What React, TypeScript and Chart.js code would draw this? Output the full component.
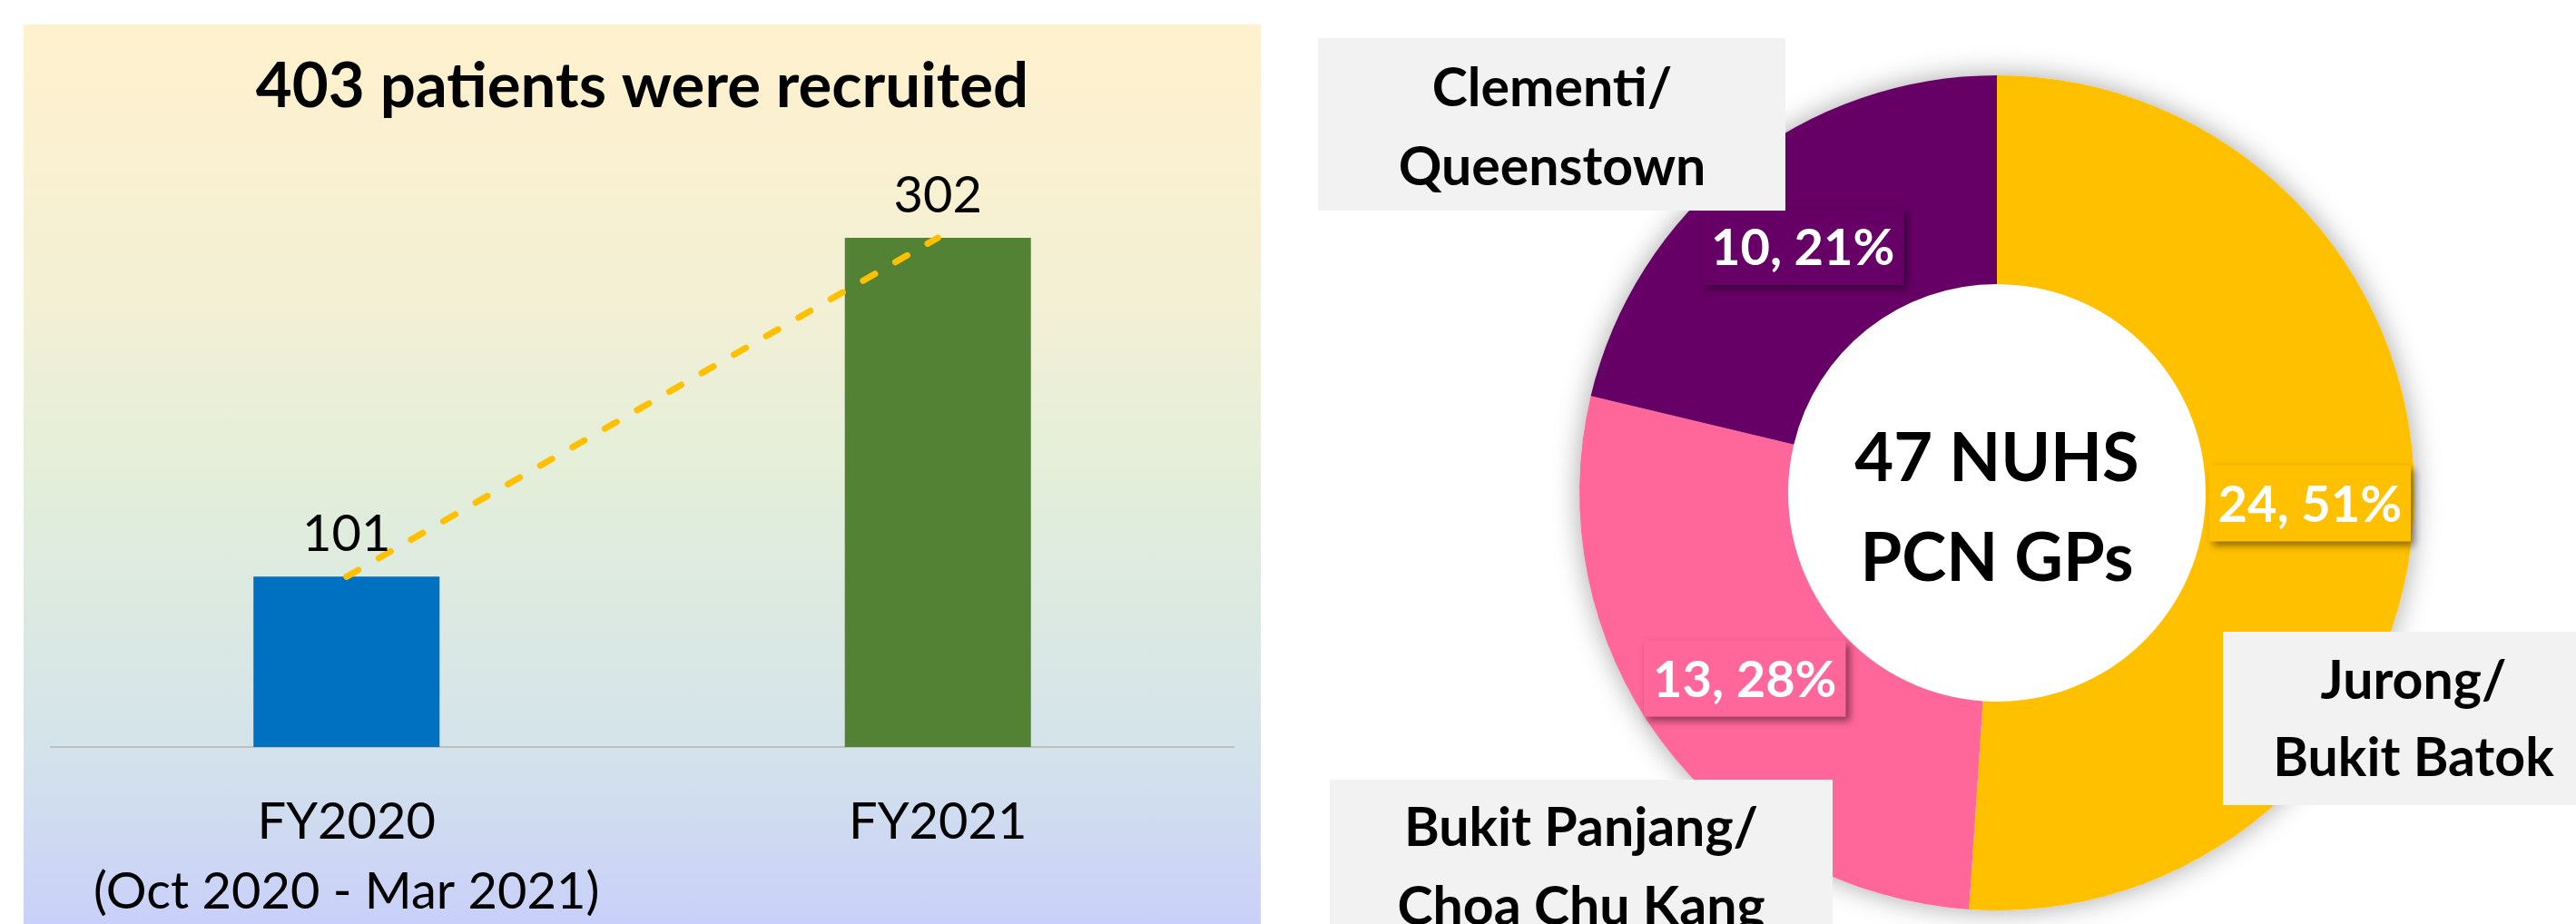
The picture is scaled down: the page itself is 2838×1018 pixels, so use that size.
import React, { useEffect, useRef } from 'react';
import { Chart, registerables } from 'chart.js';

Chart.register(...registerables);

const FONT = 'Lato, "Open Sans", "DejaVu Sans", sans-serif';

// ---- Left chart data ----
const chartTitle = '403 patients were recruited';
const periodLabels: (string | string[])[] = [['FY2020', '(Oct 2020 - Mar 2021)'], 'FY2021'];
const patientsRecruited = [101, 302];
const barColors = ['#0070C0', '#548235'];

// ---- Right chart data ----
const regionNames = [
  ['Jurong/', 'Bukit Batok'],
  ['Bukit Panjang/', 'Choa Chu Kang'],
  ['Clementi/', 'Queenstown'],
];
const gpCounts = [24, 13, 10];
const regionColors = ['#FFC000', '#FF6699', '#660066'];
const centerLines = ['47 NUHS', 'PCN GPs'];

// label box placement relative to doughnut centre (cx, cy)
const regionBoxLayout = [
  { l: 249, t: 153, w: 420, h: 191, tx: 459, lines: [206, 291] },
  { l: -735, t: 316, w: 554, h: 220, tx: -458, lines: [368, 455] },
  { l: -748, t: -501, w: 515, h: 190, tx: -490, lines: [-447, -360] },
];

const CAP = 0.358; // half cap-height ratio for Lato

const barValueLabels = {
  id: 'barValueLabels',
  afterDatasetsDraw(chart: any) {
    const meta = chart.getDatasetMeta(0);
    const ctx = chart.ctx;
    ctx.save();
    ctx.font = `400 56px ${FONT}`;
    ctx.fillStyle = '#000';
    ctx.textAlign = 'center';
    ctx.textBaseline = 'alphabetic';
    meta.data.forEach((el: any, i: number) => {
      ctx.fillText(String(chart.data.datasets[0].data[i]), el.x, el.y - 28);
    });
    ctx.restore();
  },
};

const donutDecor = {
  id: 'donutDecor',
  beforeDatasetsDraw(chart: any) {
    const arc = chart.getDatasetMeta(0).data[0];
    if (!arc) return;
    const ctx = chart.ctx;
    ctx.save();
    ctx.shadowColor = 'rgba(0,0,0,0.35)';
    ctx.shadowBlur = 30;
    ctx.fillStyle = '#ffffff';
    ctx.beginPath();
    ctx.arc(arc.x, arc.y, arc.outerRadius, 0, Math.PI * 2);
    ctx.fill();
    ctx.restore();
  },
  afterDatasetsDraw(chart: any) {
    const meta = chart.getDatasetMeta(0);
    const data = chart.data.datasets[0].data as number[];
    const total = data.reduce((a, b) => a + b, 0);
    const ctx = chart.ctx;
    const first = meta.data[0];
    const cx = first.x;
    const cy = first.y;

    // value labels
    meta.data.forEach((el: any, i: number) => {
      const p = el.tooltipPosition();
      const txt = `${data[i]}, ${Math.round((data[i] / total) * 100)}%`;
      ctx.save();
      ctx.font = `700 56px ${FONT}`;
      const w = ctx.measureText(txt).width + 20;
      const h = 84;
      ctx.shadowColor = 'rgba(0,0,0,0.45)';
      ctx.shadowBlur = 8;
      ctx.shadowOffsetX = 4;
      ctx.shadowOffsetY = 4;
      ctx.fillStyle = regionColors[i];
      ctx.fillRect(p.x - w / 2, p.y - h / 2, w, h);
      ctx.restore();
      ctx.save();
      ctx.font = `700 56px ${FONT}`;
      ctx.fillStyle = '#ffffff';
      ctx.textAlign = 'center';
      ctx.textBaseline = 'alphabetic';
      ctx.fillText(txt, p.x, p.y + 56 * CAP);
      ctx.restore();
    });

    // centre text
    ctx.save();
    ctx.font = `700 74px ${FONT}`;
    ctx.fillStyle = '#000';
    ctx.textAlign = 'center';
    ctx.textBaseline = 'alphabetic';
    ctx.fillText(centerLines[0], cx, cy - 39 + 74 * CAP);
    ctx.fillText(centerLines[1], cx, cy + 71 + 74 * CAP);
    ctx.restore();

    // region label boxes
    regionBoxLayout.forEach((b, i) => {
      ctx.save();
      ctx.fillStyle = '#F2F2F2';
      ctx.fillRect(cx + b.l, cy + b.t, b.w, b.h);
      ctx.font = `700 59px ${FONT}`;
      ctx.fillStyle = '#000';
      ctx.textAlign = 'center';
      ctx.textBaseline = 'alphabetic';
      regionNames[i].forEach((line, j) => {
        ctx.fillText(line, cx + b.tx, cy + b.lines[j] + 59 * CAP);
      });
      ctx.restore();
    });
  },
};

export default function App() {
  const barRef = useRef<HTMLCanvasElement>(null);
  const donutRef = useRef<HTMLCanvasElement>(null);

  useEffect(() => {
    document.body.style.margin = '0';
    const barChart = new Chart(barRef.current as HTMLCanvasElement, {
      type: 'bar',
      data: {
        labels: periodLabels,
        datasets: [
          {
            type: 'bar',
            data: patientsRecruited,
            backgroundColor: barColors,
            borderWidth: 0,
            barPercentage: 0.3147,
            categoryPercentage: 1,
            order: 1,
          } as any,
          {
            type: 'line',
            data: patientsRecruited,
            borderColor: '#FFC000',
            borderWidth: 7,
            borderDash: [15, 26],
            borderCapStyle: 'round',
            pointRadius: 0,
            tension: 0,
            fill: false,
            order: 0,
          } as any,
        ],
      },
      options: {
        responsive: false,
        animation: false,
        devicePixelRatio: 1,
        layout: { padding: { left: 30, right: 30, top: 0, bottom: 0 } },
        plugins: {
          legend: { display: false },
          tooltip: { enabled: false },
          title: {
            display: true,
            text: chartTitle,
            color: '#000',
            font: { family: FONT, size: 69, weight: 'bold', lineHeight: 1.2 },
            padding: { top: 27, bottom: 36 },
          },
        },
        scales: {
          x: {
            grid: { display: false, drawTicks: false },
            border: { display: true, color: '#BFBFBF', width: 2 },
            ticks: {
              color: '#000',
              font: { family: FONT, size: 56, lineHeight: 1.38 },
              padding: 44,
              maxRotation: 0,
              autoSkip: false,
            },
            afterFit: (scale: any) => {
              scale.height = 195;
            },
          },
          y: {
            display: false,
            min: 0,
            max: 350,
          },
        },
      } as any,
      plugins: [barValueLabels],
    });

    const donutChart = new Chart(donutRef.current as HTMLCanvasElement, {
      type: 'doughnut',
      data: {
        labels: regionNames.map((r) => r.join(' ')),
        datasets: [
          {
            data: gpCounts,
            backgroundColor: regionColors,
            borderWidth: 0,
            hoverOffset: 0,
          },
        ],
      },
      options: {
        responsive: false,
        animation: false,
        devicePixelRatio: 1,
        cutout: '50%',
        layout: { padding: { left: 340, right: 178, top: 83, bottom: 15 } },
        plugins: {
          legend: { display: false },
          tooltip: { enabled: false },
        },
      } as any,
      plugins: [donutDecor],
    });

    return () => {
      barChart.destroy();
      donutChart.destroy();
    };
  }, []);

  return (
    <div
      style={{
        position: 'absolute',
        left: 0,
        top: 0,
        width: 2838,
        height: 1018,
        background: '#ffffff',
        overflow: 'hidden',
      }}
    >
      <div
        style={{
          position: 'absolute',
          left: 26,
          top: 27,
          width: 1363,
          height: 991,
          background:
            'linear-gradient(to bottom, #FFF1CD 0%, #F3F0D4 30%, #E2EEDA 52%, #D4E3EA 80%, #C9D0F9 100%)',
        }}
      >
        <canvas ref={barRef} width={1363} height={991} style={{ display: 'block', width: 1363, height: 991 }} />
      </div>
      <canvas
        ref={donutRef}
        width={1438}
        height={1018}
        style={{ position: 'absolute', left: 1400, top: 0, width: 1438, height: 1018, display: 'block' }}
      />
    </div>
  );
}
